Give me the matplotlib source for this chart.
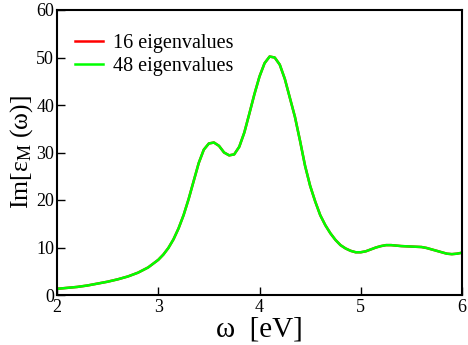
import matplotlib
matplotlib.use('Agg')
import matplotlib.pyplot as plt

plt.rcParams['font.family'] = ['Liberation Serif', 'DejaVu Serif']
plt.rcParams['mathtext.fontset'] = 'custom'
plt.rcParams['mathtext.rm'] = 'Liberation Serif'
plt.rcParams['mathtext.it'] = 'Liberation Serif'

# photon energy (eV) and Im[eps_M]
omega = [2.0, 2.1, 2.2, 2.3, 2.4, 2.5, 2.6, 2.7, 2.8, 2.9, 3.0, 3.05, 3.1, 3.15,
         3.2, 3.25, 3.3, 3.35, 3.4, 3.45, 3.5, 3.55, 3.6, 3.65, 3.7, 3.75, 3.8,
         3.85, 3.9, 3.95, 4.0, 4.05, 4.1, 4.15, 4.2, 4.25, 4.3, 4.35, 4.4, 4.45,
         4.5, 4.55, 4.6, 4.65, 4.7, 4.75, 4.8, 4.85, 4.9, 4.95, 5.0, 5.05, 5.1,
         5.15, 5.2, 5.25, 5.3, 5.4, 5.5, 5.6, 5.65, 5.7, 5.75, 5.8, 5.85, 5.9,
         5.95, 6.0]
eps_48 = [1.3, 1.5, 1.7, 2.0, 2.4, 2.8, 3.3, 3.9, 4.7, 5.8, 7.4, 8.5, 9.9, 11.7,
          14.0, 16.8, 20.2, 24.0, 27.8, 30.6, 31.9, 32.1, 31.4, 30.0, 29.4, 29.6,
          31.2, 34.2, 38.2, 42.3, 46.0, 48.8, 50.2, 50.0, 48.5, 45.5, 41.5, 37.5,
          32.5, 27.2, 23.0, 19.7, 16.8, 14.7, 13.0, 11.6, 10.5, 9.8, 9.3, 9.0,
          9.0, 9.2, 9.6, 10.0, 10.3, 10.5, 10.5, 10.3, 10.2, 10.1, 9.9, 9.6,
          9.3, 9.0, 8.7, 8.6, 8.7, 8.9]
eps_16 = [1.3, 1.5, 1.7, 2.0, 2.4, 2.8, 3.3, 3.9, 4.7, 5.8, 7.4, 8.5, 9.9, 11.7,
          14.0, 16.8, 20.2, 24.0, 27.8, 30.6, 31.9, 32.1, 31.4, 30.0, 29.4, 29.6,
          31.2, 34.2, 38.2, 42.3, 46.0, 48.8, 50.2, 50.0, 48.5, 45.5, 41.5, 37.5,
          32.5, 27.2, 23.0, 19.7, 16.8, 14.7, 13.0, 11.6, 10.5, 9.8, 9.3, 9.0,
          9.0, 9.2, 9.6, 10.0, 10.3, 10.5, 10.5, 10.3, 10.2, 10.1, 9.9, 9.6,
          9.3, 9.0, 8.7, 8.6, 8.7, 8.9]

fig = plt.figure(figsize=(4.68, 3.45), dpi=100)
ax = fig.add_axes([57 / 468, 50 / 345, 405 / 468, 285 / 345])

ax.plot(omega, eps_16, color='red', lw=1.8, label='16 eigenvalues')
ax.plot(omega, eps_48, color='#00ff00', lw=1.8, label='48 eigenvalues')

ax.set_xlim(2, 6)
ax.set_ylim(0, 60)
ax.set_xticks([2, 3, 4, 5, 6])
ax.set_yticks([0, 10, 20, 30, 40, 50, 60])
ax.tick_params(direction='in', length=6, width=1, labelsize=13, pad=2,
               top=False, right=False)
ax.tick_params(axis='x', pad=3)
for s in ax.spines.values():
    s.set_linewidth(1.5)

ax.set_xlabel('ω  [eV]', fontsize=21, labelpad=0)
ax.set_ylabel(r'Im[ε$_{\mathrm{M}}$ (ω)]', fontsize=18.5, labelpad=1)

ax.legend(loc='upper left', bbox_to_anchor=(0.0, 0.98), frameon=False,
          fontsize=14.5, handlelength=1.4, handletextpad=0.5, labelspacing=0.2)

fig.savefig('out.png', dpi=100)
